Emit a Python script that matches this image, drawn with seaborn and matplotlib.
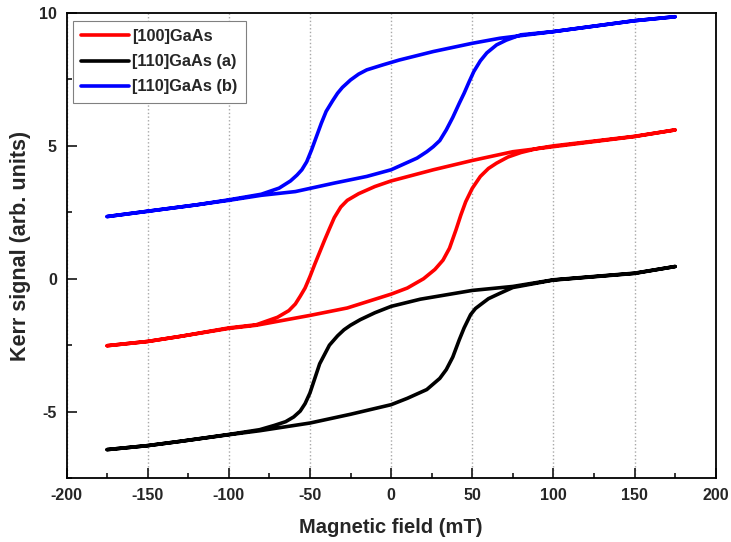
import numpy as np
import pandas as pd
import seaborn as sns
import matplotlib.pyplot as plt
from matplotlib.ticker import MultipleLocator

# Values: field sweep down (+175 -> -175), then back up
samples = ["[100]GaAs", "[110]GaAs (a)", "[110]GaAs (b)"]
colors = ["#ff0000", "#000000", "#0000ff"]

red_down_x = [175, 150, 100, 75, 50, 26, 0, -10, -20, -27, -31, -35, -38, -41, -44, -47, -50, -53, -56, -59, -63, -70, -83, -100, -130, -150, -175]
red_down_y = [5.6, 5.35, 4.97, 4.78, 4.45, 4.1, 3.68, 3.47, 3.2, 2.95, 2.7, 2.3, 1.88, 1.45, 1.0, 0.55, 0.08, -0.35, -0.66, -0.95, -1.2, -1.45, -1.73, -1.85, -2.17, -2.36, -2.52]
red_up_x = [-175, -150, -130, -100, -83, -50, -27, 0, 10, 20, 27, 32, 36, 40, 43, 46, 50, 55, 60, 65, 72, 80, 90, 100, 150, 175]
red_up_y = [-2.52, -2.36, -2.17, -1.87, -1.75, -1.38, -1.1, -0.58, -0.35, 0.0, 0.35, 0.7, 1.15, 1.84, 2.4, 2.9, 3.4, 3.85, 4.15, 4.35, 4.58, 4.75, 4.9, 5.0, 5.36, 5.6]

black_down_x = [175, 150, 100, 75, 50, 18, 0, -10, -19, -25, -29, -33, -38, -41, -44, -47, -50, -53, -56, -60, -65, -72, -81, -100, -130, -150, -175]
black_down_y = [0.46, 0.21, -0.04, -0.29, -0.44, -0.77, -1.04, -1.28, -1.54, -1.75, -1.92, -2.15, -2.5, -2.85, -3.2, -3.75, -4.3, -4.7, -4.98, -5.2, -5.38, -5.52, -5.68, -5.86, -6.12, -6.28, -6.43]
black_up_x = [-175, -150, -130, -100, -81, -50, -25, 0, 10, 22, 30, 34, 38, 42, 45, 49, 52, 55, 60, 67, 75, 100, 150, 175]
black_up_y = [-6.43, -6.28, -6.12, -5.87, -5.72, -5.43, -5.1, -4.74, -4.5, -4.17, -3.75, -3.42, -2.95, -2.3, -1.85, -1.35, -1.12, -0.98, -0.75, -0.55, -0.33, -0.05, 0.2, 0.46]

blue_down_x = [175, 150, 100, 67, 50, 26, 5, -5, -15, -20, -25, -30, -33, -36, -40, -43, -46, -49, -52, -55, -58, -62, -69, -80, -100, -120, -150, -175]
blue_down_y = [9.86, 9.71, 9.30, 9.05, 8.86, 8.55, 8.23, 8.05, 7.86, 7.7, 7.48, 7.2, 6.98, 6.7, 6.3, 5.85, 5.35, 4.85, 4.4, 4.1, 3.9, 3.68, 3.41, 3.18, 2.97, 2.78, 2.54, 2.34]
blue_up_x = [-175, -150, -120, -100, -80, -59, -35, -15, 0, 16, 22, 26, 30, 34, 38, 42, 45, 48, 51, 55, 59, 65, 71, 80, 100, 150, 175]
blue_up_y = [2.34, 2.54, 2.78, 2.95, 3.14, 3.28, 3.6, 3.85, 4.1, 4.54, 4.78, 4.97, 5.2, 5.6, 6.07, 6.6, 6.98, 7.4, 7.8, 8.2, 8.5, 8.8, 8.98, 9.18, 9.30, 9.71, 9.86]

loops = {
    samples[0]: (red_down_x + red_up_x, red_down_y + red_up_y),
    samples[1]: (black_down_x + black_up_x, black_down_y + black_up_y),
    samples[2]: (blue_down_x + blue_up_x, blue_down_y + blue_up_y),
}

rows = []
for name, (xs, ys) in loops.items():
    for i, (x, y) in enumerate(zip(xs, ys)):
        rows.append({"field": x, "kerr": y, "sample": name, "order": i})
df = pd.DataFrame(rows)

sns.set_style("white")
plt.rcParams["font.family"] = ["Liberation Sans", "DejaVu Sans"]
plt.rcParams["font.weight"] = "bold"
plt.rcParams["axes.unicode_minus"] = False

fig = plt.figure(figsize=(7.31, 5.42), dpi=100)
ax = fig.add_axes([0.091, 0.118, 0.888, 0.858])

sns.lineplot(data=df, x="field", y="kerr", hue="sample", units="sample",
             estimator=None, sort=False, palette=colors, hue_order=samples,
             linewidth=2.6, ax=ax)

ax.set_xlim(-200, 200)
ax.set_ylim(-7.5, 10)
ax.xaxis.set_major_locator(MultipleLocator(50))
ax.xaxis.set_minor_locator(MultipleLocator(25))
ax.yaxis.set_major_locator(MultipleLocator(5))
ax.yaxis.set_minor_locator(MultipleLocator(2.5))
ax.tick_params(which="major", direction="in", length=7, width=1.3,
               labelsize=11.5, pad=7)
ax.tick_params(which="minor", direction="in", length=3.5, width=1.3)
ax.tick_params(axis="both", which="both", bottom=True, left=True, top=False, right=False)
for lab in ax.get_xticklabels() + ax.get_yticklabels():
    lab.set_fontweight("bold")

ax.grid(axis="x", which="major", color="#a8a8a8", linestyle=":", linewidth=1.0)
for s in ax.spines.values():
    s.set_linewidth(1.3)
    s.set_color("black")

ax.set_xlabel("Magnetic field (mT)", fontsize=14.5, fontweight="bold", labelpad=11)
ax.set_ylabel("Kerr signal (arb. units)", fontsize=15.5, fontweight="bold", labelpad=6)

leg = ax.legend(loc="upper left", bbox_to_anchor=(0.01, 0.983), fancybox=False,
                framealpha=1, edgecolor="#808080", handlelength=2.9,
                prop={"weight": "bold", "size": 11.8}, borderpad=0.5,
                labelspacing=0.62, handletextpad=0.2, borderaxespad=0)
leg.get_frame().set_linewidth(0.8)
for line in leg.get_lines():
    line.set_linewidth(2.6)

fig.savefig("out.png", dpi=100)
